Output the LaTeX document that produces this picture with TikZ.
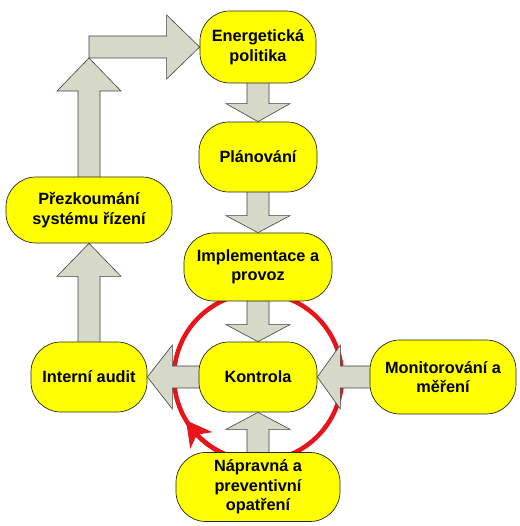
\documentclass[tikz,border=0pt]{standalone}
\usepackage{fontspec}
\setmainfont{Liberation Sans}
\usepackage{xcolor}
\usetikzlibrary{calc,positioning,arrows.meta,bending,backgrounds}

\definecolor{boxyellow}{HTML}{FFFF00}
\definecolor{arrowgray}{HTML}{D6D8C8}
\definecolor{ringred}{HTML}{E8141B}

% fat gray arrow: tail, tip, head length
\newcommand{\fatarrow}[3]{%
  \coordinate (hb) at ($(#2)!#3!(#1)$);
  \path[fatarrow] ($(#1)!11pt!90:(#2)$) -- ($(hb)!11pt!-90:(#1)$)
    -- ($(hb)!32pt!-90:(#1)$) -- (#2) -- ($(hb)!32pt!90:(#1)$)
    -- ($(hb)!11pt!90:(#1)$) -- ($(#1)!11pt!-90:(#2)$) -- cycle;
}

\begin{document}
\begin{tikzpicture}[x=1pt, y=1pt, node distance=110pt,
    box/.style={draw=black!85, line width=0.7pt, fill=boxyellow,
      rounded corners=30pt, inner sep=0pt, align=center,
      font=\fontsize{16.3}{19.5}\selectfont\bfseries},
    fatarrow/.style={draw=black!75, line width=0.6pt, fill=arrowgray},
    ring/.style={draw=ringred, line width=4.5pt}]
			\useasboundingbox (0,0) rectangle (519,526);

			\node[box, minimum width=116pt, minimum height=72pt] (ener) at (258,479) {Energetická\\politika};
			\node[box, minimum width=118pt, minimum height=70pt] (plan) [below of=ener] {Plánování};
			\node[box, minimum width=148pt, minimum height=68pt] (impl) [below of=plan] {Implementace a\\provoz};
			\node[box, minimum width=118pt, minimum height=70pt] (kontr) [below of=impl] {Kontrola};
			\node[box, minimum width=164pt, minimum height=69pt] (naprav) [below of=kontr] {Nápravná a\\preventivní\\opatření};
			\node[box, minimum width=146pt, minimum height=74pt] (monit) [right of=kontr, node distance=185pt] {Monitorování a\\měření};
			\node[box, minimum width=116pt, minimum height=70pt] (audit) [left of=kontr, node distance=169pt] {Interní audit};
			\node[box, minimum width=166pt, minimum height=66pt] (prezk) [above of=audit, node distance=167pt] {Přezkoumání\\systému řízení};

			\coordinate (corner) at (prezk |- ener.west);

			\begin{scope}[on background layer]
				% kontrolni smycka
				\draw[ring] (kontr.center) circle[radius=84pt];
				\draw[ring, -{Stealth[length=25pt, width=27pt, inset=7pt, flex]}]
					(kontr.center) ++(255:84pt) arc[start angle=255, end angle=211, radius=84pt];

				\fatarrow{ener.center}{plan.north}{18pt}
				\fatarrow{plan.center}{impl.north}{17pt}
				\fatarrow{impl.center}{kontr.north}{17pt}
				\fatarrow{naprav.center}{kontr.south}{17pt}
				\fatarrow{monit.center}{kontr.east}{23pt}
				\fatarrow{kontr.center}{audit.east}{25pt}
				\fatarrow{audit.center}{prezk.south}{33pt}
				\fatarrow{prezk.center}{$(corner)+(0,-11)$}{33pt}
				\fatarrow{corner}{ener.west}{33pt}
			\end{scope}
		\end{tikzpicture}
\end{document}
